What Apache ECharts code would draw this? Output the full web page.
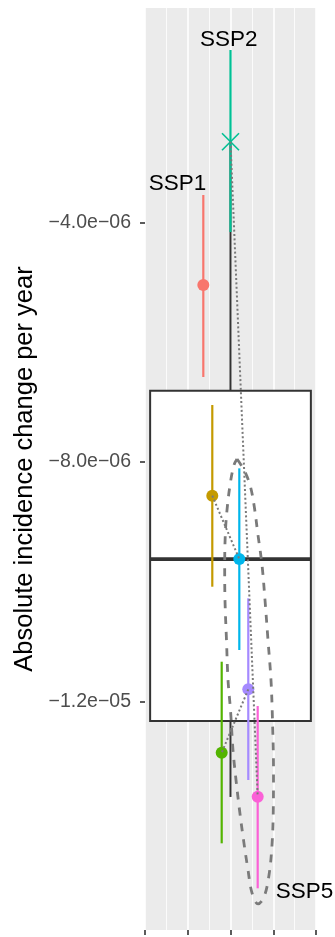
<!DOCTYPE html>
<html><head><meta charset="utf-8">
<script src="https://cdn.jsdelivr.net/npm/echarts@6/dist/echarts.min.js"></script>
<style>html,body{margin:0;padding:0;background:#fff}#c{width:335px;height:937px}</style>
</head><body><div id="c"></div>
<script>
// ---- data ----
const groups = ['SSP1', 'G2', 'G3', 'SSP2', 'G5', 'G6', 'SSP5'];
const xPos = [1.364, 1.574, 1.794, 2.0, 2.206, 2.416, 2.636];
const estimate = [-5.043e-6, -8.561e-6, -12.851e-6, -2.651e-6, -9.618e-6, -11.793e-6, -13.586e-6];
const lowerCI = [-6.579e-6, -10.080e-6, -14.364e-6, -4.159e-6, -11.137e-6, -13.307e-6, -15.115e-6];
const upperCI = [-3.541e-6, -7.047e-6, -11.332e-6, -1.120e-6, -8.104e-6, -10.274e-6, -12.072e-6];
const links = [[1, 4], [5, 2], [3, 6]];
// box: x centre, lower whisker, Q1, median, Q3, upper whisker
const boxStats = [2.0, -13.59e-6, -12.32e-6, -9.62e-6, -6.81e-6, -2.651e-6];
const ellipsePts = [
  [2.152, -7.948e-6], [2.316, -8.132e-6], [2.456, -8.382e-6], [2.550, -8.716e-6],
  [2.643, -9.217e-6], [2.737, -9.718e-6], [2.807, -10.302e-6], [2.877, -10.970e-6],
  [2.947, -11.638e-6], [2.982, -12.306e-6], [3.006, -13.140e-6], [3.001, -13.808e-6],
  [2.971, -14.392e-6], [2.901, -14.893e-6], [2.784, -15.260e-6], [2.643, -15.376e-6],
  [2.503, -15.190e-6], [2.409, -14.806e-6], [2.304, -14.307e-6], [2.211, -13.808e-6],
  [2.129, -13.307e-6], [2.058, -12.806e-6], [2.000, -12.139e-6], [1.942, -11.638e-6],
  [1.906, -10.970e-6], [1.871, -10.302e-6], [1.864, -9.718e-6], [1.883, -9.134e-6],
  [1.930, -8.716e-6], [2.000, -8.332e-6], [2.082, -8.048e-6], [2.152, -7.948e-6]
];
const textLabels = [['SSP1', 0.760, -3.349e-6], ['SSP2', 1.958, -0.953e-6], ['SSP5', 3.731, -15.172e-6]];
const yTickValues = [-4e-6, -8e-6, -1.2e-5];
const yTickLabels = ['\u22124.0e\u221206', '\u22128.0e\u221206', '\u22121.2e\u221205'];
const yMinorGrid = [-2e-6, -6e-6, -1e-5, -1.4e-5];
const yTitle = 'Absolute incidence change per year';

// ---- styles ----
const palette = ['#F8766D', '#C49A00', '#53B400', '#00C094', '#00B6EB', '#A58AFF', '#FB61D7'];
const FONT = "'Liberation Sans', Arial, Helvetica, sans-serif";
const BOX_HALF = 1.88;

const chart = echarts.init(document.getElementById('c'), null, {renderer: 'canvas'});

const gridLineData = yTickValues.map(v => ({yAxis: v, lineStyle: {width: 1.6}}))
  .concat(yMinorGrid.map(v => ({yAxis: v, lineStyle: {width: 0.8}})));

chart.setOption({
  animation: false,
  backgroundColor: '#ffffff',
  grid: {left: 145, top: 8, width: 171, height: 922, show: true, backgroundColor: '#EBEBEB', borderWidth: 0},
  xAxis: {
    type: 'value', min: 0, max: 4, interval: 1,
    axisLine: {show: false},
    axisLabel: {show: false},
    axisTick: {show: true, length: 5, lineStyle: {color: '#333333', width: 1.6}},
    splitLine: {show: true, lineStyle: {color: '#ffffff', width: 1.6}},
    minorTick: {show: false, splitNumber: 2},
    minorSplitLine: {show: true, lineStyle: {color: '#ffffff', width: 0.8}}
  },
  yAxis: {
    type: 'value', min: -15.811e-6, max: -0.419e-6,
    axisLine: {show: false},
    splitLine: {show: false},
    axisTick: {show: true, customValues: yTickValues, length: 5, lineStyle: {color: '#333333', width: 1.6}},
    axisLabel: {
      show: true, customValues: yTickValues, margin: 14,
      fontSize: 19.5, color: '#4D4D4D', fontFamily: FONT,
      formatter: function (v) {
        const i = yTickValues.findIndex(t => Math.abs(t - v) < 1e-12);
        return i >= 0 ? yTickLabels[i] : '';
      }
    },
    name: yTitle, nameLocation: 'middle', nameRotate: 90, nameGap: 106,
    nameTextStyle: {fontSize: 25.5, color: '#000000', fontFamily: FONT}
  },
  series: [
    { // horizontal grid lines
      type: 'line', data: [], z: 1, silent: true,
      markLine: {silent: true, symbol: ['none', 'none'], label: {show: false},
        lineStyle: {color: '#ffffff', type: 'solid'}, data: gridLineData}
    },
    { // box plot
      type: 'custom', z: 2, silent: true,
      data: [boxStats],
      encode: {x: 0, y: [1, 2, 3, 4, 5]},
      renderItem: function (params, api) {
        const x = api.value(0);
        const pMin = api.coord([x, api.value(1)]);
        const pQ1 = api.coord([x, api.value(2)]);
        const pMed = api.coord([x, api.value(3)]);
        const pQ3 = api.coord([x, api.value(4)]);
        const pMax = api.coord([x, api.value(5)]);
        const l = api.coord([x - BOX_HALF, 0])[0];
        const r = api.coord([x + BOX_HALF, 0])[0];
        const st = {stroke: '#333333', lineWidth: 2, fill: null};
        return {type: 'group', children: [
          {type: 'line', shape: {x1: pMax[0], y1: pMax[1], x2: pQ3[0], y2: pQ3[1]}, style: st},
          {type: 'line', shape: {x1: pMin[0], y1: pMin[1], x2: pQ1[0], y2: pQ1[1]}, style: st},
          {type: 'rect', shape: {x: l, y: pQ3[1], width: r - l, height: pQ1[1] - pQ3[1]},
            style: {fill: '#ffffff', stroke: '#333333', lineWidth: 2}},
          {type: 'line', shape: {x1: l, y1: pMed[1], x2: r, y2: pMed[1]}, style: {stroke: '#333333', lineWidth: 3.6}}
        ]};
      }
    },
    { // error bars
      type: 'custom', z: 3, silent: true,
      data: groups.map((g, i) => [xPos[i], lowerCI[i], upperCI[i]]),
      encode: {x: 0, y: [1, 2]},
      renderItem: function (params, api) {
        const i = params.dataIndex;
        const a = api.coord([api.value(0), api.value(1)]);
        const b = api.coord([api.value(0), api.value(2)]);
        return {type: 'line', shape: {x1: a[0], y1: a[1], x2: b[0], y2: b[1]},
          style: {stroke: palette[i], lineWidth: 2.2}};
      }
    },
    { // points
      type: 'custom', z: 4, silent: true,
      data: groups.map((g, i) => [xPos[i], estimate[i]]),
      encode: {x: 0, y: 1},
      renderItem: function (params, api) {
        const i = params.dataIndex;
        const p = api.coord([api.value(0), api.value(1)]);
        if (groups[i] === 'SSP2') {
          const h = 8.5;
          const st = {stroke: palette[i], lineWidth: 1.6};
          return {type: 'group', children: [
            {type: 'line', shape: {x1: p[0] - h, y1: p[1] - h, x2: p[0] + h, y2: p[1] + h}, style: st},
            {type: 'line', shape: {x1: p[0] - h, y1: p[1] + h, x2: p[0] + h, y2: p[1] - h}, style: st}
          ]};
        }
        return {type: 'circle', shape: {cx: p[0], cy: p[1], r: 6}, style: {fill: palette[i]}};
      }
    },
    { // dotted connections
      type: 'custom', z: 5, silent: true,
      data: links.map(([a, b]) => [xPos[a], estimate[a], xPos[b], estimate[b]]),
      encode: {x: [0, 2], y: [1, 3]},
      renderItem: function (params, api) {
        const a = api.coord([api.value(0), api.value(1)]);
        const b = api.coord([api.value(2), api.value(3)]);
        return {type: 'line', shape: {x1: a[0], y1: a[1], x2: b[0], y2: b[1]},
          style: {stroke: '#7A7A7A', lineWidth: 2, lineDash: [2, 2.4]}};
      }
    },
    { // dashed ellipse
      type: 'line', z: 6, silent: true, smooth: 0.35, showSymbol: false,
      data: ellipsePts,
      lineStyle: {color: '#7A7A7A', width: 2.8, type: [8, 8]}
    },
    { // text labels
      type: 'custom', z: 7, silent: true,
      data: textLabels.map(t => [t[1], t[2]]),
      encode: {x: 0, y: 1},
      renderItem: function (params, api) {
        const p = api.coord([api.value(0), api.value(1)]);
        return {type: 'text', x: p[0], y: p[1], style: {
          text: textLabels[params.dataIndex][0], fill: '#000000', fontSize: 22.5,
          fontFamily: FONT, align: 'center', verticalAlign: 'middle'}};
      }
    }
  ]
});
</script></body></html>
